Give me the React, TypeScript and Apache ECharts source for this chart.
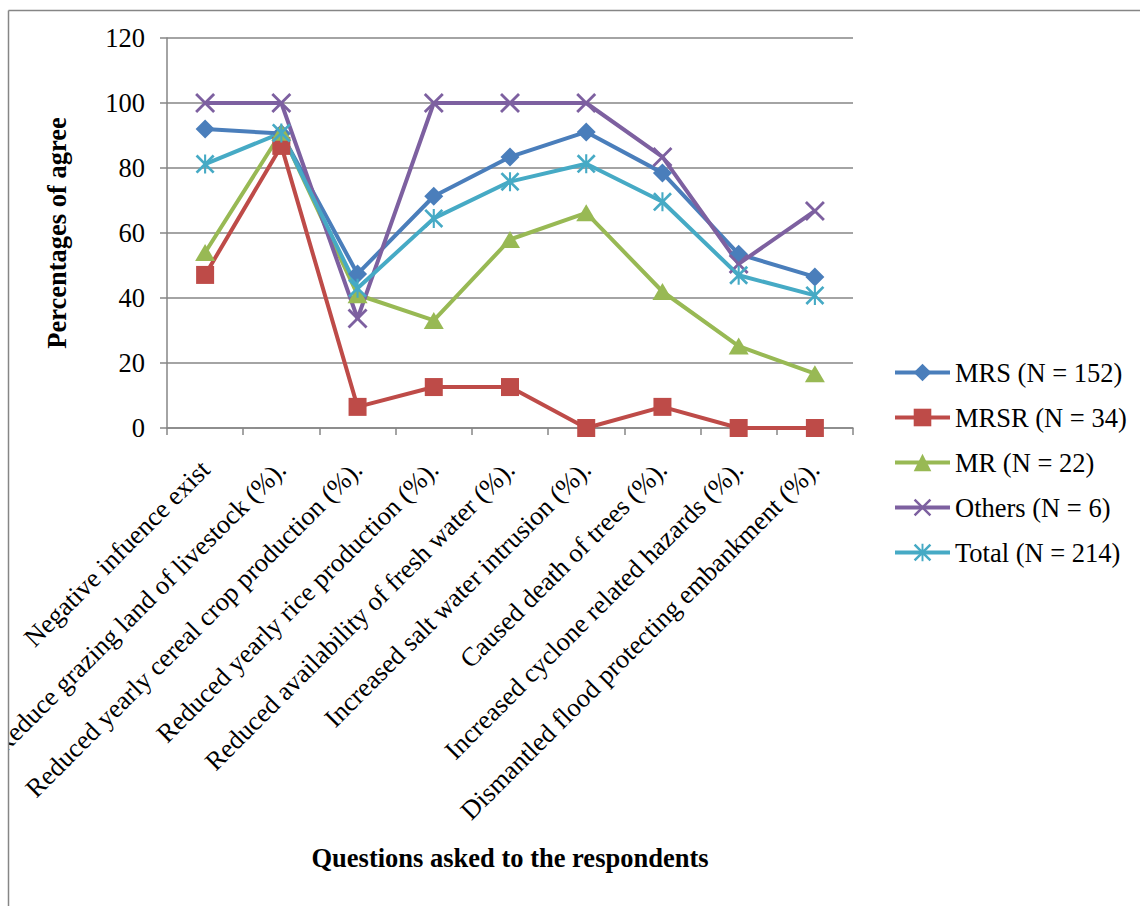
import React, { useEffect, useRef } from "react";
import * as echarts from "echarts";

// Questions on the x axis
const questions = [
  "Negative infuence exist",
  "Reduce grazing land of livestock (%).",
  "Reduced yearly cereal crop production (%).",
  "Reduced yearly rice production (%).",
  "Reduced availability of fresh water (%).",
  "Increased salt water intrusion (%).",
  "Caused death of trees (%).",
  "Increased cyclone related hazards (%).",
  "Dismantled flood protecting embankment (%).",
];

// Percentage of respondents who agree, per group
const mrs = [92, 90.6, 47.4, 71.3, 83.4, 91.1, 78.5, 53.5, 46.5];
const mrsr = [47.1, 86.8, 6.5, 12.6, 12.6, 0, 6.5, 0, 0];
const mr = [54, 91, 41, 33.1, 58, 66.2, 42, 25.2, 16.7];
const others = [100, 100, 33.7, 100, 100, 100, 83.4, 50.5, 66.8];
const total = [81.2, 90.8, 43, 64.5, 75.8, 81.3, 69.6, 47, 40.8];

const seriesNames = [
  "MRS (N = 152)",
  "MRSR (N = 34)",
  "MR (N = 22)",
  "Others (N = 6)",
  "Total (N = 214)",
];

const yTicks = { min: 0, max: 120, interval: 20 };

const colors = ["#4A7EBB", "#BE4B48", "#98B954", "#7D60A0", "#46AAC5"];

const FONT = "Liberation Serif";
const FONT_SIZE = 26.5;
const GREY = "#868686";

// Marker outlines: a thin X, and an asterisk (X plus vertical bar)
const crossPath =
  "path://M0,1 L1,0 L5,4 L9,0 L10,1 L6,5 L10,9 L9,10 L5,6 L1,10 L0,9 L4,5 Z";
const starPath =
  "path://M0,1 L1,0 L5,4 L9,0 L10,1 L6,5 L10,9 L9,10 L5,6 L1,10 L0,9 L4,5 Z M4.45,0 L5.55,0 L5.55,10 L4.45,10 Z";

export default function App() {
  const ref = useRef<HTMLDivElement>(null);

  useEffect(() => {
    if (!ref.current) return;
    const chart = echarts.init(ref.current, undefined, { renderer: "svg" });

    const markers: any[] = [
      { symbol: "diamond", symbolSize: 19 },
      { symbol: "rect", symbolSize: 18 },
      { symbol: "triangle", symbolSize: [20, 17] },
      { symbol: crossPath, symbolSize: 20 },
      { symbol: starPath, symbolSize: 19 },
    ];
    const data = [mrs, mrsr, mr, others, total];

    const plainText = {
      fontFamily: FONT,
      fontSize: FONT_SIZE,
      color: "#000",
    };

    chart.setOption({
      animation: false,
      backgroundColor: "#ffffff",
      textStyle: { fontFamily: FONT },
      grid: {
        left: 167,
        right: 287,
        top: 38,
        bottom: 478,
        containLabel: false,
        outerBoundsMode: "none",
      },
      legend: {
        orient: "vertical",
        left: 893,
        top: 359,
        padding: 0,
        itemWidth: 55,
        itemHeight: 22,
        itemGap: 18,
        lineStyle: { width: 4 },
        textStyle: { ...plainText, lineHeight: 26.5 },
        data: seriesNames,
      },
      xAxis: {
        type: "category",
        data: questions,
        name: "Questions asked to the respondents",
        nameLocation: "middle",
        nameGap: 416,
        nameTextStyle: { ...plainText, fontWeight: "bold" },
        axisLine: { lineStyle: { color: GREY, width: 1.5 } },
        axisTick: { show: true, length: 7, lineStyle: { color: GREY, width: 1.5 } },
        axisLabel: { ...plainText, interval: 0, rotate: 45, margin: 37 },
        splitLine: { show: false },
      },
      yAxis: {
        type: "value",
        min: yTicks.min,
        max: yTicks.max,
        interval: yTicks.interval,
        name: "Percentages of agree",
        nameLocation: "middle",
        nameGap: 97,
        nameTextStyle: { ...plainText, fontWeight: "bold" },
        axisLine: { show: true, lineStyle: { color: GREY, width: 1.5 } },
        axisTick: { show: true, length: 7, lineStyle: { color: GREY, width: 1.5 } },
        axisLabel: { ...plainText, margin: 22 },
        splitLine: { show: true, lineStyle: { color: GREY, width: 1.5 } },
      },
      graphic: [
        // mask the area left of the frame
        {
          type: "rect",
          shape: { x: 0, y: 0, width: 8, height: 906 },
          style: { fill: "#ffffff" },
          z: 100,
        },
        {
          type: "rect",
          shape: { x: 0, y: 0, width: 1140, height: 10 },
          style: { fill: "#ffffff" },
          z: 100,
        },
        // frame around the chart
        {
          type: "line",
          shape: { x1: 8.5, y1: 10.5, x2: 1140, y2: 10.5 },
          style: { stroke: GREY, lineWidth: 1.5 },
          z: 101,
        },
        {
          type: "line",
          shape: { x1: 8.5, y1: 10.5, x2: 8.5, y2: 906 },
          style: { stroke: GREY, lineWidth: 1.5 },
          z: 101,
        },
      ],
      series: seriesNames.map((name, i) => ({
        name,
        type: "line",
        data: data[i],
        symbol: markers[i].symbol,
        symbolSize: markers[i].symbolSize,
        showAllSymbol: true,
        color: colors[i],
        lineStyle: { color: colors[i], width: 4 },
        itemStyle: { color: colors[i] },
        emphasis: { disabled: true },
      })),
    });

    return () => chart.dispose();
  }, []);

  return (
    <div
      ref={ref}
      style={{ position: "fixed", left: 0, top: 0, width: 1140, height: 906 }}
    />
  );
}
